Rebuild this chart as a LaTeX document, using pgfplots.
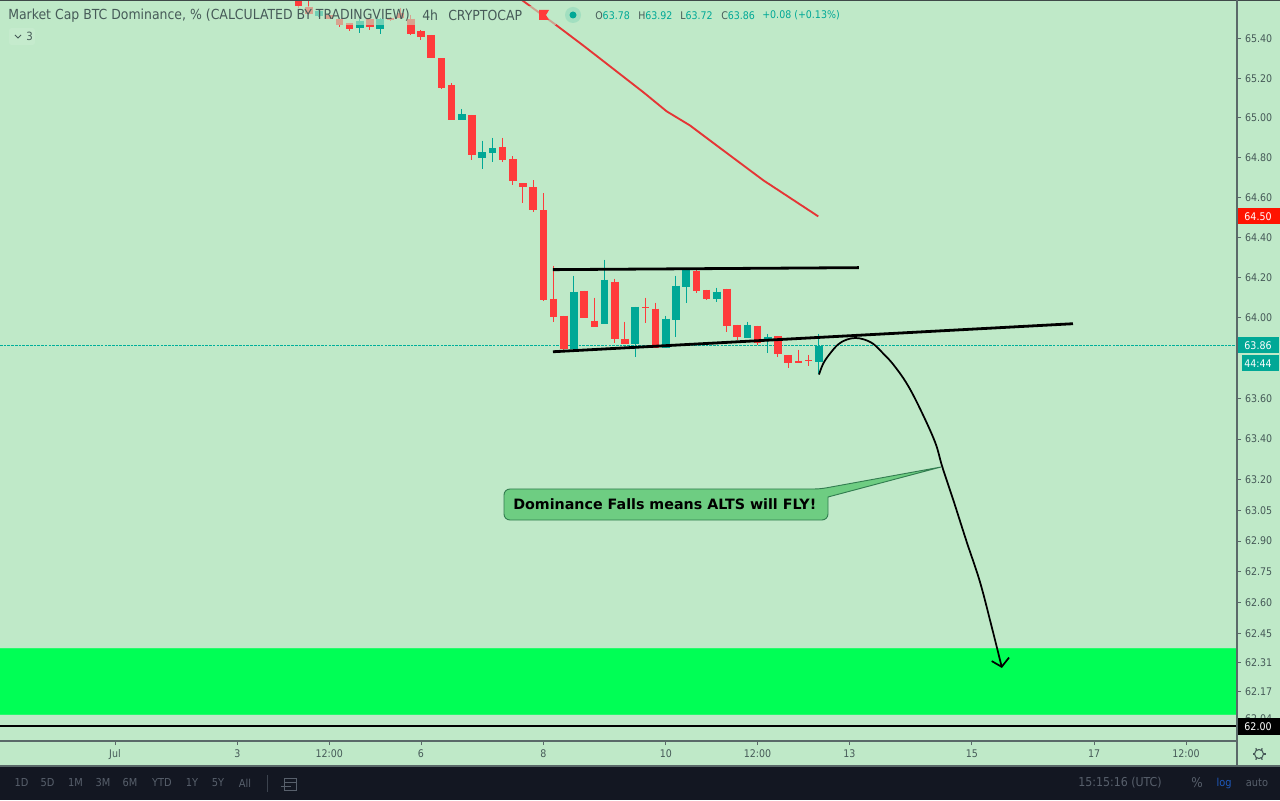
\documentclass[border=0pt]{standalone}
\usepackage{fontspec}
\usepackage{pgfplots}
\pgfplotsset{compat=1.18}
\usetikzlibrary{arrows.meta}
\setmainfont{DejaVu Sans}
\newfontfamily\cond{DejaVu Sans Condensed}
\definecolor{bgc}{RGB}{191,233,200}
\definecolor{redc}{RGB}{255,59,59}
\definecolor{tealc}{RGB}{0,168,150}
\definecolor{priceline}{RGB}{0,175,155}
\definecolor{logblue}{RGB}{30,90,190}
\definecolor{zonec}{RGB}{0,255,85}
\definecolor{txt}{RGB}{70,90,88}
\definecolor{axc}{RGB}{90,105,105}
\definecolor{dark}{RGB}{19,23,34}
\definecolor{tool}{RGB}{88,96,108}
\definecolor{bubble}{RGB}{110,205,130}
\definecolor{bubbled}{RGB}{50,125,80}
\newcommand{\fs}[1]{\fontsize{#1}{#1}\selectfont}
% x, body a, body b, high, low
\newcommand{\rc}[5]{\addplot[redc,line width=0.75pt,forget plot] coordinates {(#1,#4)(#1,#5)};
\addplot[redc,line width=5.8pt,forget plot] coordinates {(#1,#2)(#1,#3)};}
\newcommand{\gc}[5]{\addplot[tealc,line width=0.75pt,forget plot] coordinates {(#1,#4)(#1,#5)};
\addplot[tealc,line width=5.8pt,forget plot] coordinates {(#1,#2)(#1,#3)};}
\begin{document}
\begin{tikzpicture}
\path[use as bounding box] (0pt,0pt) rectangle (960pt,600pt);
\fill[bgc] (0pt,0pt) rectangle (960pt,600pt);
\begin{axis}[
  at={(0pt,44.25pt)},anchor=south west,
  scale only axis,width=927.75pt,height=555.75pt,
  % log price scale: 1000*ln(v/64), series about v=64 for accuracy
  y coord trafo/.code={\pgfmathparse{(#1-64)*(15.625-(#1-64)*(0.12207-(#1-64)*0.0012716))}},
  xmin=-11.27,xmax=110,ymin=61.9315,ymax=65.5975,
  axis x line*=bottom,axis y line*=right,
  axis line style={axc,line width=0.8pt},
  tick style={axc,line width=0.6pt},
  tick align=outside,major tick length=3pt,
  minor tick num=0,
  scaled ticks=false,
  xtick={0,12,21,30,42,54,63,72,84,96,105},
  xticklabels={Jul,3,12:00,6,8,10,12:00,13,15,17,12:00},
  ytick={65.4,65.2,65,64.8,64.6,64.4,64.2,64,63.6,63.4,63.2,63.05,62.9,62.75,62.6,62.45,62.31,62.17,62.04},
  yticklabels={65.40,65.20,65.00,64.80,64.60,64.40,64.20,64.00,63.60,63.40,63.20,63.05,62.90,62.75,62.60,62.45,62.31,62.17,62.04},
  tick label style={font=\cond\fs{7.9pt},text=txt},
  xticklabel style={yshift=0.25pt},
  yticklabel style={xshift=-0.5pt},
  clip=true,
]
% demand zone
\addplot[fill=zonec,draw=zonec!80!bgc,line width=0.5pt,forget plot] coordinates {(-12,62.059)(111,62.059)(111,62.379)(-12,62.379)} --cycle;
% 62.00 line and last price line
\addplot[black,line width=1.5pt,forget plot] coordinates {(-12,62.002)(111,62.002)};
\addplot[priceline,line width=0.7pt,dash pattern=on 2pt off 0.8pt,forget plot] coordinates {(-12,63.86)(111,63.86)};
% moving average
\addplot[redc!90!black,line width=1.4pt,forget plot] coordinates {(39.9,65.597)(43.3,65.468)(45.91,65.366)(48.85,65.248)(51.79,65.13)(54.09,65.033)(56.37,64.962)(59.64,64.836)(63.56,64.686)(68.95,64.505)};
% candles
\rc{18}{65.62}{65.568}{65.62}{65.558}
\rc{19}{65.563}{65.527}{65.594}{65.522}
\gc{20}{65.542}{65.517}{65.552}{65.512}
\rc{21}{65.522}{65.501}{65.522}{65.501}
\rc{22}{65.501}{65.471}{65.501}{65.461}
\rc{23}{65.481}{65.45}{65.481}{65.44}
\gc{24}{65.491}{65.455}{65.501}{65.43}
\rc{25}{65.501}{65.46}{65.507}{65.445}
\gc{26}{65.501}{65.45}{65.507}{65.425}
\rc{27}{65.507}{65.496}{65.512}{65.49}
\rc{28}{65.533}{65.507}{65.558}{65.5}
\rc{29}{65.501}{65.425}{65.522}{65.42}
\rc{30}{65.44}{65.409}{65.445}{65.394}
\rc{31}{65.42}{65.302}{65.42}{65.302}
\rc{32}{65.302}{65.151}{65.302}{65.146}
\rc{33}{65.166}{64.99}{65.176}{64.99}
\gc{34}{65.02}{64.99}{65.045}{64.99}
\rc{35}{65.015}{64.811}{65.015}{64.786}
\gc{36}{64.826}{64.796}{64.886}{64.741}
\gc{37}{64.846}{64.821}{64.90}{64.776}
\rc{38}{64.851}{64.786}{64.90}{64.776}
\rc{39}{64.791}{64.682}{64.806}{64.662}
\rc{40}{64.672}{64.652}{64.672}{64.572}
\rc{41}{64.652}{64.537}{64.687}{64.527}
\rc{42}{64.537}{64.09}{64.622}{64.085}
\rc{43}{64.095}{64.005}{64.259}{63.98}
\rc{44}{64.01}{63.846}{64.01}{63.831}
\gc{45}{64.129}{63.846}{64.209}{63.846}
\rc{46}{64.134}{64.0}{64.134}{64.0}
\rc{47}{63.985}{63.955}{64.1}{63.955}
\gc{48}{64.189}{63.97}{64.289}{63.97}
\rc{49}{64.179}{63.896}{64.194}{63.876}
\rc{50}{63.896}{63.871}{63.98}{63.871}
\gc{51}{64.055}{63.871}{64.055}{63.806}
\rc{52}{64.052}{64.046}{64.1}{63.975}
\rc{53}{64.045}{63.851}{64.075}{63.851}
\gc{54}{63.995}{63.851}{64.01}{63.851}
\gc{55}{64.159}{63.99}{64.209}{63.905}
\gc{56}{64.239}{64.154}{64.249}{64.075}
\rc{57}{64.234}{64.134}{64.239}{64.124}
\rc{58}{64.139}{64.095}{64.139}{64.09}
\gc{59}{64.129}{64.095}{64.149}{64.08}
\rc{60}{64.144}{63.96}{64.144}{63.93}
\rc{61}{63.965}{63.905}{63.965}{63.891}
\gc{62}{63.965}{63.9}{63.98}{63.9}
\rc{63}{63.96}{63.876}{63.96}{63.866}
\gc{64}{63.905}{63.886}{63.92}{63.826}
\rc{65}{63.91}{63.821}{63.91}{63.806}
\rc{66}{63.816}{63.776}{63.816}{63.751}
\rc{67}{63.786}{63.776}{63.841}{63.776}
\rc{68}{63.789}{63.784}{63.816}{63.761}
\gc{69}{63.86}{63.78}{63.92}{63.72}
% trend lines
\addplot[black,line width=2.1pt,forget plot] coordinates {(42.94,64.239)(72.94,64.249)};
\addplot[black,line width=2.1pt,forget plot] coordinates {(42.94,63.831)(93.92,63.97)};
% projected path and arrow head
\addplot[black,line width=1.3pt,smooth,tension=0.6,forget plot] coordinates {(69.02,63.718)(69.44,63.773)(70.1,63.822)(70.91,63.868)(71.73,63.891)(72.55,63.899)(73.36,63.893)(74.34,63.87)(75.32,63.822)(76.3,63.768)(77.62,63.674)(78.92,63.55)(80.39,63.386)(81.11,63.263)(82.19,63.1)(83.5,62.896)(84.8,62.701)(85.95,62.483)(86.93,62.289)};
\addplot[black,line width=1.3pt,forget plot] coordinates {(85.95,62.317)(86.93,62.289)(87.65,62.334)};
\end{axis}
\begin{scope}[x=0.75pt,y=-0.75pt,shift={(0pt,600pt)}]
% top rule
\draw[axc!70!black,line width=0.8pt] (0,0.5)--(1280,0.5);
% semi-transparent legend band
\fill[bgc,opacity=0.6] (0,6) rectangle (556,25);
\fill[white,opacity=0.1,rounded corners=2pt] (9,28) rectangle (35,45);
\node[anchor=west,inner sep=0,text=txt,font=\cond\fs{10.4pt}] at (8,15.5) {Market Cap BTC Dominance, \% (CALCULATED BY TRADINGVIEW)};
\node[anchor=west,inner sep=0,text=txt,font=\cond\fs{10.4pt}] at (422,15.5) {4h};
\node[anchor=west,inner sep=0,text=txt,font=\cond\fs{10.4pt}] at (448,15.5) {CRYPTOCAP};
\draw[txt,line width=0.7pt] (15,35)--(18,38)--(21,35);
\node[anchor=west,inner sep=0,text=txt,font=\cond\fs{8.5pt}] at (26,36) {3};
% flag
\fill[redc] (539,10)--(549,10)--(546,15)--(549,20)--(539,20)--cycle;
% status dot
\fill[tealc,opacity=0.15] (573,15) circle (8);
\fill[tealc] (573,15) circle (3.5);
% ohlc readout
\foreach \x/\a/\b in {595/O/63.78,638/H/63.92,680/L/63.72,721/C/63.86}{
  \node[anchor=west,inner sep=0,font=\cond\fs{7.9pt}] at (\x,15.5) {\textcolor{txt}{\a}\textcolor{tealc}{\b}};}
\node[anchor=west,inner sep=0,font=\cond\fs{7.9pt},text=tealc] at (762,15.5) {+0.08 (+0.13\%)};
% price labels
\fill[red!85!orange] (1237,208) rectangle (1280,224);
\node[text=white,inner sep=0,font=\cond\fs{7.9pt}] at (1258,216.5) {64.50};
\fill[tealc] (1238,337) rectangle (1279,353.5);
\node[text=white,inner sep=0,font=\cond\fs{7.9pt}] at (1258,345.5) {63.86};
\fill[tealc] (1242,355) rectangle (1279,371);
\node[text=white,inner sep=0,font=\cond\fs{7.9pt}] at (1258,363.5) {44:44};
\fill[black] (1237,718) rectangle (1280,735);
\node[text=white,inner sep=0,font=\cond\fs{7.9pt}] at (1258,726.5) {62.00};
% callout
\draw[draw=bubbled,fill=bubble,line width=0.7pt] (504,505) [rounded corners=4.5pt] -- (504,489) -- (820,489) [sharp corners] -- (941,467) -- (828,497) [rounded corners=4.5pt] -- (828,520) -- (504,520) -- cycle;
\node[anchor=west,inner sep=0,text=black,font=\bfseries\fs{10.7pt}] at (513,504) {Dominance Falls means ALTS will FLY!};
% gear
\draw[txt,line width=0.8pt] (1259,754) circle (4.5);
\foreach \a in {0,60,...,300}{\draw[txt,line width=1pt] (1259,754)++(\a:4.5)--++(\a:2);}
% toolbar
\fill[dark] (0,766) rectangle (1280,800);
\draw[axc,line width=0.8pt] (1237,0)--(1237,766);
\draw[axc,line width=0.8pt] (0,766)--(1280,766);
\foreach \x/\t in {21.5/1D,47.5/5D,75.5/1M,103/3M,130/6M,162/YTD,192/1Y,218/5Y,245/All}{
  \node[text=tool,inner sep=0,font=\cond\fs{8.2pt}] at (\x,783) {\t};}
\draw[tool!60!dark,line width=0.6pt] (267,775)--(267,792);
\draw[tool,line width=0.7pt] (284,778) rectangle (296,790);
\draw[tool,line width=0.7pt] (284,782)--(296,782);
\draw[tool,line width=0.7pt] (281,786)--(291,786);
\node[anchor=east,inner sep=0,text=tool,font=\cond\fs{9.2pt}] at (1162,783) {15:15:16 (UTC)};
\node[text=tool,inner sep=0,font=\cond\fs{10pt}] at (1197,783) {\%};
\node[text=logblue,inner sep=0,font=\cond\fs{8.2pt}] at (1224,783) {log};
\node[text=tool,inner sep=0,font=\cond\fs{8.2pt}] at (1257,783) {auto};
\end{scope}
\end{tikzpicture}
\end{document}
